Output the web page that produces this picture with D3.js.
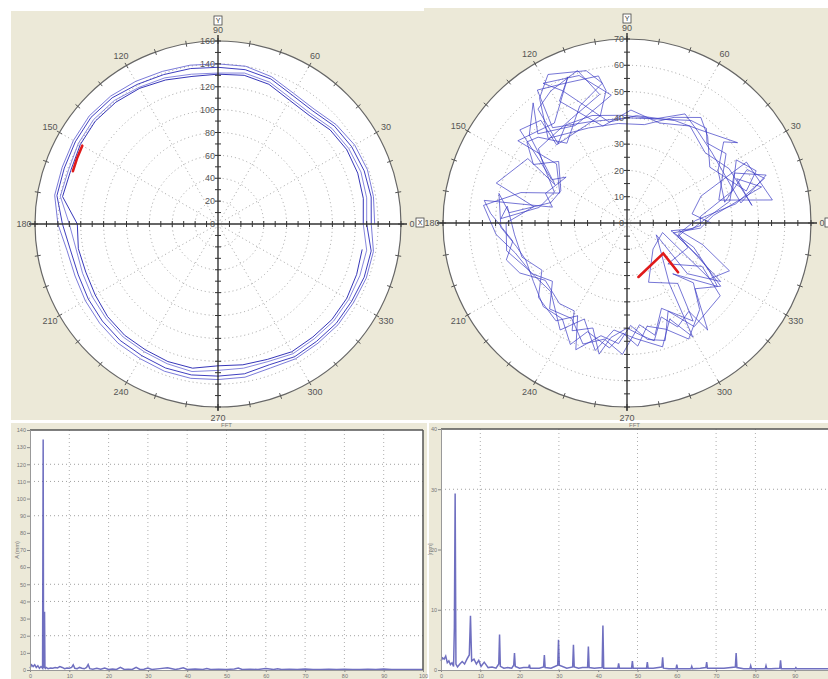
<!DOCTYPE html>
<html>
<head>
<meta charset="utf-8">
<script src="https://cdn.jsdelivr.net/npm/d3@7"></script>
<style>
  body { margin: 0; background: #fff; }
  svg { display: block; font-family: "Liberation Sans", Arial, sans-serif; }
</style>
</head>
<body>
<svg id="chart" width="828" height="679"></svg>
<script>
// ---- polar plot, left: four laps of the orbit (deg, radius) ----
const leftTheta = [0,10,20,30,40,50,60,70,80,90,100,110,120,130,140,150,160,170,180,190,200,210,220,230,240,250,260,270,280,290,300,310,320,330,340,350];
const leftRev1 = [137,138,139,138,135,131,132,137,140,140,141,142,144,146,147,146,145,145,140,134,133,134,135,136,136,137,137,136,136,134,136,136,137,137,138,138];
const leftRev2 = [134,136,136,135,133,129,130,135,137,137,138,139,141,144,145,144,143,143,136,131,130,131,132,133,133,134,134,133,133,131,134,134,135,135,136,136];
const leftRev3 = [130,132,133,132,130,126,127,132,134,132,133,136,138,141,142,141,139,140,130,126,126,127,128,129,129,130,131,128,128,128,131,131,132,132,132,132];
const leftRev4 = [127,129,130,130,128,124,125,130,132,131,131,134,137,139,140,139,137,138,123,124,123,124,126,127,127,128,128,124,125,126,129,129,130,130,129,128];
const leftRedTheta = [150,155,160];
const leftRedR = [137,136,135];

// ---- polar plot, right: irregular orbit (deg, radius) ----
const rightTheta = [0,8,20,27,9,14,35,45,50,58,70,90,110,128,124,113,101,99,104,132,130,139,145,150,143,160,168,171,176,189,197,205,215,230,239,243,252,258,262,270,277,283,290,296,305,307,316,326,335,345,352,
  358,5,17,30,22,15,34,47,55,66,80,95,112,133,125,118,105,100,112,127,136,141,148,138,154,165,175,167,182,192,200,212,225,236,245,250,262,268,275,281,290,298,310,318,312,325,330,340,350,355,
  3,12,25,19,10,40,52,62,75,92,108,122,131,128,120,108,102,118,140,146,157,170,178,172,186,198,209,220,234,242,248,257,266,272,280,288,295,303,322,330,315,338,348,
  2,10,18,24,12,30,40,36,52,65,85,100,116,121,108,97,118,135,128,138,152,147,163,170,180,193,204,222,238,246,256,263,274,286,294,300,305,322,338,320,328,340,348,356,
  5,15,22,8,28,42,57,72,88,104,119,112,126,143,140,156,164,173,185,195,208,218,228,240,250,259,268,277,284,292,304,310,290,315,345,326,335,344,352];
const rightR = [32,25,30,51,56,36,46,43,47,46,42,40,41,46,61,58,57,51,42,40,51,54,40,33,29,33,29,55,52,44,48,45,38,40,39,46,42,51,44,40,43,46,38,44,41,51,36,43,30,20,22,
  28,28,42,48,53,47,38,45,49,44,38,38,39,44,58,64,60,54,48,38,47,49,42,35,28,30,45,50,48,43,41,42,45,44,51,44,48,42,47,40,43,50,43,34,26,42,36,27,17,25,
  30,40,45,56,44,42,44,47,41,41,43,44,40,55,58,61,50,45,44,38,30,34,48,46,43,42,37,44,46,40,52,44,46,39,45,47,37,47,45,33,22,25,20,
  26,42,55,50,38,40,48,52,45,43,41,39,56,62,59,49,42,48,58,50,31,45,52,36,46,47,42,39,48,40,50,41,44,49,40,50,28,16,12,30,42,24,18,28,
  33,53,45,48,44,40,44,40,43,38,53,60,47,52,35,28,42,55,50,44,41,36,44,42,49,45,50,39,44,35,45,30,24,14,14,38,43,30,20];
const rightRedTheta = [282,320,316];
const rightRedR = [21,18,27];

const angleLabels = [0,30,60,90,120,150,180,210,240,270,300,330];

// ---- spectra (Hz, amplitude) ----
const leftFreq = [0,0.4,0.8,1.2,1.6,2.0,2.4,2.8,3.2,3.35,3.45,3.55,3.7,3.8,3.9,4.1,4.6,5.2,5.8,6.4,7.0,7.6,8.2,8.8,9.4,10.0,10.6,11.0,11.4,12.0,
  12.6,13.2,13.8,14.4,14.8,15.2,16,17,18,19,20,21,22,23,24,25,26,27,28,29,30,31,33,35,37,38,39,40,42,44,
  45,46,48,50,52,53,54,56,58,60,62,63,64,66,68,70,72,74,76,78,80,82,84,86,88,90,92,94,96,98,100];
const leftAmp = [1,3,2,3,1.5,2.5,1,2,1,134.5,3,1,34,1.5,1,1.5,0.8,1.2,1,1.5,1.2,2,1.5,0.8,1.2,1,1.5,3,1,0.8,
  1.5,1,0.7,1.5,3.2,0.8,0.5,1,0.4,1.2,0.3,0.6,0.3,1.5,0.3,0.5,0.3,1.6,0.3,0.4,1.2,0.3,0.8,1.3,0.3,0.7,1.3,0.3,0.6,0.3,
  0.8,0.3,0.4,0.3,0.6,1.2,0.3,0.5,0.3,0.8,0.3,0.7,0.3,0.5,0.3,0.6,0.3,0.3,0.5,0.3,0.4,0.3,0.3,0.4,0.3,0.6,0.3,0.3,0.3,0.3,0.3];
const leftYTicks = [0,10,20,30,40,50,60,70,80,90,100,110,120,130,140];
const leftYGrid = [20,40,50,90,110,120];
const leftXTicks = [0,10,20,30,40,50,60,70,80,90,100];

const rightFreq = [0,0.4,0.8,1.2,1.6,2.0,2.4,2.8,3.2,3.4,3.6,3.8,4.2,4.8,5.4,6.0,6.6,7.2,7.5,7.8,
  8.4,9.0,9.6,10.2,11,12,13,14,14.7,14.9,15.1,16,17,18,18.5,18.7,18.9,20,21,22.3,
  22.5,22.7,24,25,26.1,26.3,26.5,28,29.7,29.9,30.1,32,33.5,33.7,33.9,35,36,37.3,37.5,37.7,
  39,41,41.2,41.4,43,45,45.2,45.4,47,48.5,48.7,48.9,50,52.3,52.5,52.7,54,56.2,56.4,56.6,
  58,59.8,60,60.2,62,63.6,63.8,64,66,67.4,67.6,67.8,70,72,74.9,75.1,75.3,77,78.6,78.8,
  79,81,82.5,82.7,82.9,84,86.2,86.4,86.6,88,90.1,90.3,90.5,93,96,100];
const rightAmp = [1.5,2,1.8,2.3,1.2,1.5,0.9,1.2,0.6,7,29.3,1,0.5,1,1.4,1,1.8,2.5,9,1.5,
  1.8,1,1.6,0.6,1.3,0.4,0.5,0.3,1,5.9,0.6,0.3,0.4,0.3,0.8,2.8,0.6,0.3,0.4,0.4,
  0.9,0.3,0.3,0.3,0.5,2.5,0.4,0.3,0.8,5,0.8,0.3,0.5,4.2,0.5,0.3,0.4,0.4,3.9,0.4,
  0.3,0.4,7.4,0.3,0.3,0.3,1.1,0.3,0.3,0.3,1.5,0.3,0.3,0.3,1.3,0.3,0.3,0.5,2.1,0.3,
  0.2,0.2,0.9,0.2,0.2,0.2,0.6,0.2,0.3,0.4,1.3,0.3,0.3,0.3,0.5,2.8,0.4,0.2,0.2,0.7,
  0.2,0.2,0.2,0.7,0.2,0.2,0.3,1.6,0.2,0.2,0.2,0.4,0.2,0.2,0.2,0.2];
const rightYTicks = [0,10,20,30,40];
const rightYGrid = [10,30];
const rightXTicks = [0,10,20,30,40,50,60,70,80,90];

const svg = d3.select('#chart');
const beige = '#ece9d8';

// panels
svg.append('rect').attr('x', 11).attr('y', 11).attr('width', 413).attr('height', 409).attr('fill', beige);
svg.append('rect').attr('x', 424).attr('y', 8).attr('width', 404).attr('height', 412).attr('fill', beige);
svg.append('rect').attr('x', 11).attr('y', 423).attr('width', 416).attr('height', 256).attr('fill', beige);
svg.append('rect').attr('x', 429).attr('y', 423).attr('width', 399).attr('height', 256).attr('fill', beige);

const toRad = d => (90 - d) * Math.PI / 180;

function drawPolar(cfg) {
  const g = svg.append('g').attr('transform', `translate(${cfg.cx},${cfg.cy})`);
  const r = d3.scaleLinear().domain([0, cfg.rMax]).range([0, cfg.R]);
  const R = cfg.R;

  g.append('circle').attr('r', R).attr('fill', '#fff');

  // dotted rings and spokes
  g.selectAll('.ring').data(cfg.rings).enter().append('circle')
    .attr('r', d => r(d)).attr('fill', 'none')
    .attr('stroke', '#8a8a8a').attr('stroke-width', 0.8).attr('stroke-dasharray', '1,3');
  g.selectAll('.spoke').data([30, 60, 120, 150, 210, 240, 300, 330]).enter().append('line')
    .attr('x1', 0).attr('y1', 0)
    .attr('x2', d => R * Math.cos(d * Math.PI / 180))
    .attr('y2', d => -R * Math.sin(d * Math.PI / 180))
    .attr('stroke', '#8a8a8a').attr('stroke-width', 0.8).attr('stroke-dasharray', '1,3');

  // outer circle and degree ticks
  g.append('circle').attr('r', R).attr('fill', 'none').attr('stroke', '#666').attr('stroke-width', 1.2);
  g.selectAll('.dtick').data(d3.range(0, 360, 10)).enter().append('line')
    .attr('x1', d => (R - 3) * Math.cos(d * Math.PI / 180))
    .attr('y1', d => -(R - 3) * Math.sin(d * Math.PI / 180))
    .attr('x2', d => (R + 3) * Math.cos(d * Math.PI / 180))
    .attr('y2', d => -(R + 3) * Math.sin(d * Math.PI / 180))
    .attr('stroke', '#555').attr('stroke-width', 1);

  // orbit traces
  const line = d3.lineRadial().angle(d => toRad(d[0])).radius(d => r(d[1]));
  cfg.traces.forEach(t => {
    g.append('path').attr('d', line(t.pts)).attr('fill', 'none')
      .attr('stroke', t.color).attr('stroke-width', 1).attr('stroke-opacity', t.opacity)
      .attr('stroke-linejoin', 'round');
  });

  // cross axes
  g.append('line').attr('x1', -R - 6).attr('x2', R + 6).attr('y1', 0).attr('y2', 0)
    .attr('stroke', '#333').attr('stroke-width', 1.3);
  g.append('line').attr('x1', 0).attr('x2', 0).attr('y1', -R - 6).attr('y2', R + 4)
    .attr('stroke', '#222').attr('stroke-width', 1.3);
  const tv = d3.range(cfg.tickStep, cfg.rMax + 0.01, cfg.tickStep);
  [1, -1].forEach(s => {
    g.selectAll(null).data(tv).enter().append('line')
      .attr('x1', d => s * r(d)).attr('x2', d => s * r(d)).attr('y1', -3).attr('y2', 3)
      .attr('stroke', '#333');
    g.selectAll(null).data(tv).enter().append('line')
      .attr('y1', d => s * r(d)).attr('y2', d => s * r(d)).attr('x1', -3).attr('x2', 3)
      .attr('stroke', '#333');
  });

  // red marker (last samples)
  g.append('path').attr('d', line(cfg.red)).attr('fill', 'none')
    .attr('stroke', '#e01a1a').attr('stroke-width', 2.6).attr('stroke-linecap', 'round');

  // radial labels
  g.selectAll('.rl').data(cfg.rLabels).enter().append('text')
    .attr('x', -3).attr('y', d => -r(d)).attr('dy', '0.35em')
    .attr('text-anchor', 'end').attr('font-size', 9).attr('fill', '#555')
    .text(d => d);

  // angle labels
  g.selectAll('.al').data(angleLabels).enter().append('text')
    .attr('x', d => (R + 11) * Math.cos(d * Math.PI / 180))
    .attr('y', d => -(R + 11) * Math.sin(d * Math.PI / 180))
    .attr('dy', '0.35em').attr('text-anchor', 'middle')
    .attr('font-size', 9).attr('fill', '#555').text(d => d);

  // axis name boxes
  const box = (x, y, txt) => {
    g.append('rect').attr('x', x - 4).attr('y', y - 5).attr('width', 8).attr('height', 9)
      .attr('fill', '#fff').attr('stroke', '#444').attr('stroke-width', 0.8);
    if (txt) {
      g.append('text').attr('x', x).attr('y', y).attr('dy', '0.33em').attr('text-anchor', 'middle')
        .attr('font-size', 7).attr('fill', '#333').text(txt);
    }
  };
  box(0, -R - 20, 'Y');
  cfg.xBoxes.forEach(b => box(b[0], 0, b[1]));
}

const zip = (a, b) => a.map((v, i) => [v, b[i]]);
const leftLaps = [leftRev1, leftRev2, leftRev3, leftRev4];
// each lap also runs on to the first sample of the next lap, so the orbit stays one line
const lapPts = i => {
  const pts = zip(leftTheta, leftLaps[i]);
  if (i + 1 < leftLaps.length) pts.push([360, leftLaps[i + 1][0]]);
  return pts;
};

drawPolar({
  cx: 218, cy: 224, R: 183, rMax: 160, tickStep: 10,
  rings: [20, 40, 60, 80, 100, 120, 140],
  rLabels: [0, 20, 40, 60, 80, 100, 120, 140, 160],
  xBoxes: [],
  traces: [
    { pts: lapPts(0), color: '#5a5ad0', opacity: 0.8 },
    { pts: lapPts(1), color: '#2a2ab8', opacity: 0.9 },
    { pts: lapPts(2), color: '#6a6ad6', opacity: 0.8 },
    { pts: lapPts(3), color: '#2020b0', opacity: 0.9 }
  ],
  red: zip(leftRedTheta, leftRedR)
});

drawPolar({
  cx: 627, cy: 223, R: 184, rMax: 70, tickStep: 5,
  rings: [10, 20, 30, 40, 50, 60],
  rLabels: [0, 10, 20, 30, 40, 50, 60, 70],
  xBoxes: [[-207, 'X'], [202, null]],
  traces: [
    { pts: zip(rightTheta, rightR), color: '#3c3cc4', opacity: 0.7 }
  ],
  red: zip(rightRedTheta, rightRedR)
});

function drawSpectrum(cfg) {
  const x = d3.scaleLinear().domain([0, 100]).range([cfg.x0, cfg.x1]);
  const y = d3.scaleLinear().domain([0, cfg.yMax]).range([cfg.yBottom, cfg.yTop]);
  const g = svg.append('g');
  const right = Math.min(cfg.x1, 828);

  g.append('rect').attr('x', cfg.x0).attr('y', cfg.yTop)
    .attr('width', right - cfg.x0).attr('height', cfg.yBottom - cfg.yTop).attr('fill', '#fff');

  g.selectAll('.vg').data(cfg.xGrid).enter().append('line')
    .attr('x1', d => x(d)).attr('x2', d => x(d)).attr('y1', cfg.yTop).attr('y2', cfg.yBottom)
    .attr('stroke', '#999').attr('stroke-width', 0.8).attr('stroke-dasharray', '1,3');
  g.selectAll('.hg').data(cfg.yGrid).enter().append('line')
    .attr('y1', d => y(d)).attr('y2', d => y(d)).attr('x1', cfg.x0).attr('x2', right)
    .attr('stroke', '#888').attr('stroke-width', 0.8).attr('stroke-dasharray', '1,3');

  const line = d3.line().x(d => x(d[0])).y(d => y(d[1]));
  g.append('path').attr('d', line(zip(cfg.freq, cfg.amp))).attr('fill', 'none')
    .attr('stroke', '#4b4bb0').attr('stroke-width', 1.5).attr('stroke-opacity', 0.8);

  // frame
  g.append('line').attr('x1', cfg.x0).attr('x2', right).attr('y1', cfg.yTop).attr('y2', cfg.yTop)
    .attr('stroke', '#555').attr('stroke-width', 1.5);
  if (cfg.x1 <= 828) {
    g.append('line').attr('x1', cfg.x1).attr('x2', cfg.x1).attr('y1', cfg.yTop).attr('y2', cfg.yBottom)
      .attr('stroke', '#555').attr('stroke-width', 1.5);
  }

  const ax = g.append('g').attr('transform', `translate(0,${cfg.yBottom})`)
    .call(d3.axisBottom(x).tickValues(cfg.xTicks).tickSize(2).tickPadding(2));
  const ay = g.append('g').attr('transform', `translate(${cfg.x0},0)`)
    .call(d3.axisLeft(y).tickValues(cfg.yTicks).tickSize(3).tickPadding(1));
  [ax, ay].forEach(a => {
    a.selectAll('text').attr('font-size', 5.5).attr('fill', '#777');
    a.selectAll('line').attr('stroke', '#888');
    a.select('.domain').attr('stroke', '#999');
  });

  g.append('text').attr('transform', `translate(${cfg.labelX},${(cfg.yTop + cfg.yBottom) / 2}) rotate(-90)`)
    .attr('text-anchor', 'middle').attr('font-size', 5.5).attr('fill', '#777').text(cfg.yLabel);
  g.append('text').attr('x', (cfg.x0 + right) / 2).attr('y', 427)
    .attr('text-anchor', 'middle').attr('font-size', 6).attr('fill', '#777').text('FFT');
}

drawSpectrum({
  x0: 30, x1: 423, yTop: 430, yBottom: 670, yMax: 140,
  yTicks: leftYTicks, yGrid: leftYGrid, xGrid: [10, 20, 30, 40, 50, 60, 70, 80, 90], xTicks: leftXTicks,
  freq: leftFreq, amp: leftAmp, yLabel: 'A (mm)', labelX: 19
});

drawSpectrum({
  x0: 441, x1: 834, yTop: 429, yBottom: 670, yMax: 40,
  yTicks: rightYTicks, yGrid: rightYGrid, xGrid: [10, 30, 50, 70, 80], xTicks: rightXTicks,
  freq: rightFreq, amp: rightAmp, yLabel: '[mm]', labelX: 432
});
</script>
</body>
</html>
